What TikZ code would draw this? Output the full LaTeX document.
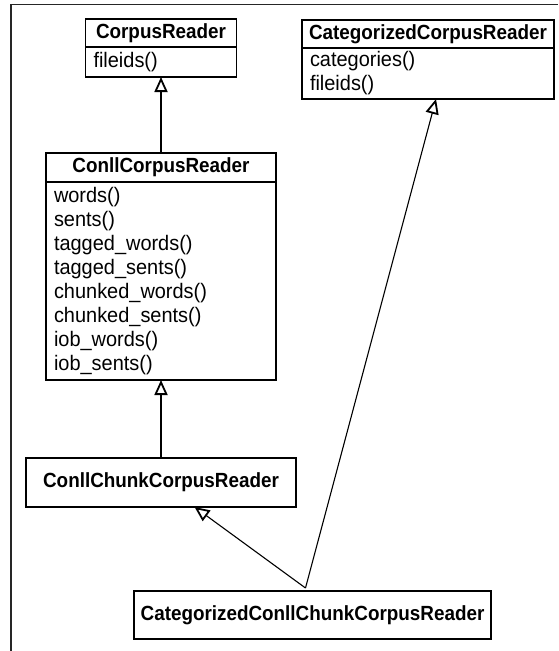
\documentclass[tikz,border=0pt]{standalone}
\usepackage{fontspec}
\setmainfont{Liberation Sans}
\newfontfamily\headfont[FakeStretch=0.92]{Liberation Sans}
\newfontfamily\opsfont[FakeStretch=0.95]{Liberation Sans}
\usetikzlibrary{
    arrows.meta,
    positioning
}
\tikzset{
    classname/.style={draw, line width=1.1pt, outer sep=0pt, inner sep=0pt,
        font=\headfont\fontsize{20.5}{24}\selectfont\bfseries},
    classops/.style={draw, line width=1.1pt, outer sep=0pt, inner xsep=8pt, inner ysep=0pt,
        align=left, font=\opsfont\fontsize{21}{24}\selectfont},
    inherits/.style={line width=1.1pt,
        -{Triangle[open, length=15pt, width=13pt, line width=1.8pt]}}
}

\begin{document}
\begin{tikzpicture}[x=1pt, y=1pt]
    \useasboundingbox (0, 0) rectangle (558, -651);
    \draw[line width=1.6pt, black!85] (11, -651) -- (11, -4.5) -- (558, -4.5);
    % base classes
    \node[classname, minimum width=151pt, minimum height=28pt] (corpus) at (161, -33) {CorpusReader};
    \node[classops, below=0pt of corpus, text width=135pt, minimum height=30pt] (corpusops) {fileids()};
    \node[classname, minimum width=252pt, minimum height=28pt] (cat) at (428, -34) {CategorizedCorpusReader};
    \node[classops, below=0pt of cat, text width=236pt, minimum height=51pt] (catops) {categories()\\fileids()};
    % conll reader
    \node[classname, minimum width=230pt, minimum height=29pt] (conll) at (161, -167.5) {ConllCorpusReader};
    \node[classops, below=0pt of conll, text width=214pt, minimum height=198pt] (conllops)
        {words()\\sents()\\tagged\_words()\\tagged\_sents()\\chunked\_words()\\chunked\_sents()\\iob\_words()\\iob\_sents()};
    % subclasses
    \node[classname, minimum width=270pt, minimum height=49pt] (chunk) at (161, -482.5) {ConllChunkCorpusReader};
    \node[classname, minimum width=357pt, minimum height=48pt] (catchunk) at (312.5, -615) {CategorizedConllChunkCorpusReader};
    \coordinate (fork) at ([xshift=-7pt, yshift=3pt]catchunk.north);
    \draw
    (conll) edge[inherits] (corpusops)
    (chunk) edge[inherits] (conllops)
    (fork) edge[inherits] (chunk)
    (fork) edge[inherits] ([xshift=8pt]catops.south);
\end{tikzpicture}
\end{document}
